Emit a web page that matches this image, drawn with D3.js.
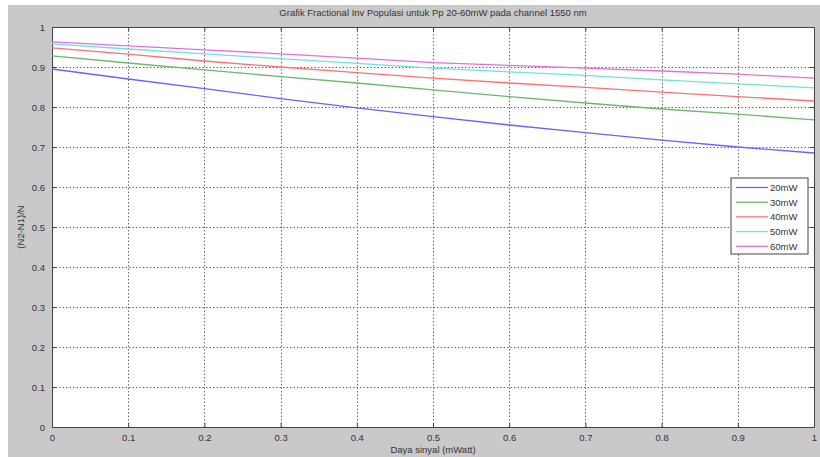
<!DOCTYPE html>
<html>
<head>
<meta charset="utf-8">
<script src="https://cdn.jsdelivr.net/npm/d3@7"></script>
<style>
  body { margin: 0; background: #fff; }
  text { font-family: Arial, "Liberation Sans", sans-serif; }
</style>
</head>
<body>
<div id="chart"></div>
<script>
// data
var xValues = [0, 0.1, 0.2, 0.3, 0.4, 0.5, 0.6, 0.7, 0.8, 0.9, 1];
var seriesNames = ["20mW", "30mW", "40mW", "50mW", "60mW"];
var seriesColors = ["#6464ff", "#6cb86c", "#ff7070", "#70e0e0", "#e070e0"];
var p20 = [0.895, 0.870, 0.846, 0.821, 0.798, 0.776, 0.755, 0.736, 0.717, 0.700, 0.685];
var p30 = [0.928, 0.910, 0.893, 0.876, 0.860, 0.843, 0.826, 0.810, 0.795, 0.782, 0.768];
var p40 = [0.948, 0.932, 0.915, 0.900, 0.886, 0.872, 0.860, 0.849, 0.837, 0.826, 0.815];
var p50 = [0.958, 0.945, 0.933, 0.921, 0.909, 0.897, 0.888, 0.879, 0.868, 0.858, 0.848];
var p60 = [0.963, 0.953, 0.943, 0.933, 0.922, 0.911, 0.904, 0.897, 0.890, 0.882, 0.872];
var xTicks = [0, 0.1, 0.2, 0.3, 0.4, 0.5, 0.6, 0.7, 0.8, 0.9, 1];
var yTicks = [0, 0.1, 0.2, 0.3, 0.4, 0.5, 0.6, 0.7, 0.8, 0.9, 1];

var width = 820, height = 457;
var margin = {top: 27, right: 6, bottom: 30, left: 52};
var iw = width - margin.left - margin.right;
var ih = height - margin.top - margin.bottom;

var svg = d3.select("#chart").append("svg")
  .attr("width", width).attr("height", height);

// figure background
svg.append("rect").attr("x", 8).attr("y", 5)
  .attr("width", width - 8).attr("height", height - 5)
  .attr("fill", "#c9c9c9");

var g = svg.append("g").attr("transform", "translate(" + margin.left + "," + margin.top + ")");

var x = d3.scaleLinear().domain([0, 1]).range([0, iw]);
var y = d3.scaleLinear().domain([0, 1]).range([ih, 0]);

g.append("rect").attr("width", iw).attr("height", ih).attr("fill", "#fff");

// grid
g.append("g").selectAll("line").data(xTicks.slice(1, -1)).enter().append("line")
  .attr("x1", d => Math.round(x(d)) + 0.5).attr("x2", d => Math.round(x(d)) + 0.5)
  .attr("y1", 0).attr("y2", ih)
  .attr("stroke", "#6a6a6a").attr("stroke-dasharray", "1.5,2");
g.append("g").selectAll("line").data(yTicks.slice(1, -1)).enter().append("line")
  .attr("y1", d => Math.round(y(d)) + 0.5).attr("y2", d => Math.round(y(d)) + 0.5)
  .attr("x1", 0).attr("x2", iw)
  .attr("stroke", "#6a6a6a").attr("stroke-dasharray", "1.5,2");

// axes
var xAxis = g.append("g").attr("transform", "translate(0," + ih + ")")
  .call(d3.axisBottom(x).tickValues(xTicks).tickSizeInner(-4).tickSizeOuter(0).tickPadding(7)
    .tickFormat(d3.format("")));
var yAxis = g.append("g")
  .call(d3.axisLeft(y).tickValues(yTicks).tickSizeInner(-4).tickSizeOuter(0).tickPadding(7)
    .tickFormat(d3.format("")));
g.append("g").attr("transform", "translate(0,0)")
  .call(d3.axisTop(x).tickValues(xTicks).tickSizeInner(-4).tickSizeOuter(0).tickFormat(""));
g.append("g").attr("transform", "translate(" + iw + ",0)")
  .call(d3.axisRight(y).tickValues(yTicks).tickSizeInner(-4).tickSizeOuter(0).tickFormat(""));

g.selectAll(".domain").attr("stroke", "#444");
g.selectAll(".tick line").attr("stroke", "#444");
g.selectAll(".tick text").attr("fill", "#333").style("font-size", "9.5px");
yAxis.selectAll(".tick text").attr("dy", "0.35em");

// lines
var allSeries = [p20, p30, p40, p50, p60];
var line = d3.line().x((d, i) => x(xValues[i])).y(d => y(d));
g.append("g").selectAll("path").data(allSeries).enter().append("path")
  .attr("d", d => line(d))
  .attr("fill", "none")
  .attr("stroke", (d, i) => seriesColors[i])
  .attr("stroke-width", 1.3);

// legend
var lg = svg.append("g").attr("transform", "translate(731,178)");
lg.append("rect").attr("width", 77).attr("height", 76)
  .attr("fill", "#fff").attr("stroke", "#444");
var item = lg.selectAll(".item").data(seriesNames).enter().append("g")
  .attr("transform", (d, i) => "translate(0," + (9.5 + i * 14.7) + ")");
item.append("line").attr("x1", 5).attr("x2", 37)
  .attr("stroke", (d, i) => seriesColors[i]).attr("stroke-width", 1.3);
item.append("text").attr("x", 39).attr("dy", "0.35em")
  .attr("fill", "#333").style("font-size", "9.5px").text(d => d);

// titles
svg.append("text").attr("x", margin.left + iw / 2).attr("y", 16)
  .attr("text-anchor", "middle").attr("fill", "#333").style("font-size", "9.5px")
  .text("Grafik Fractional Inv Populasi untuk Pp 20-60mW pada channel 1550 nm");
svg.append("text").attr("x", margin.left + iw / 2).attr("y", 453)
  .attr("text-anchor", "middle").attr("fill", "#333").style("font-size", "9.5px")
  .text("Daya sinyal (mWatt)");
svg.append("text").attr("transform", "translate(24," + (margin.top + ih / 2) + ") rotate(-90)")
  .attr("text-anchor", "middle").attr("fill", "#333").style("font-size", "9.5px")
  .text("(N2-N1)/N");
</script>
</body>
</html>
